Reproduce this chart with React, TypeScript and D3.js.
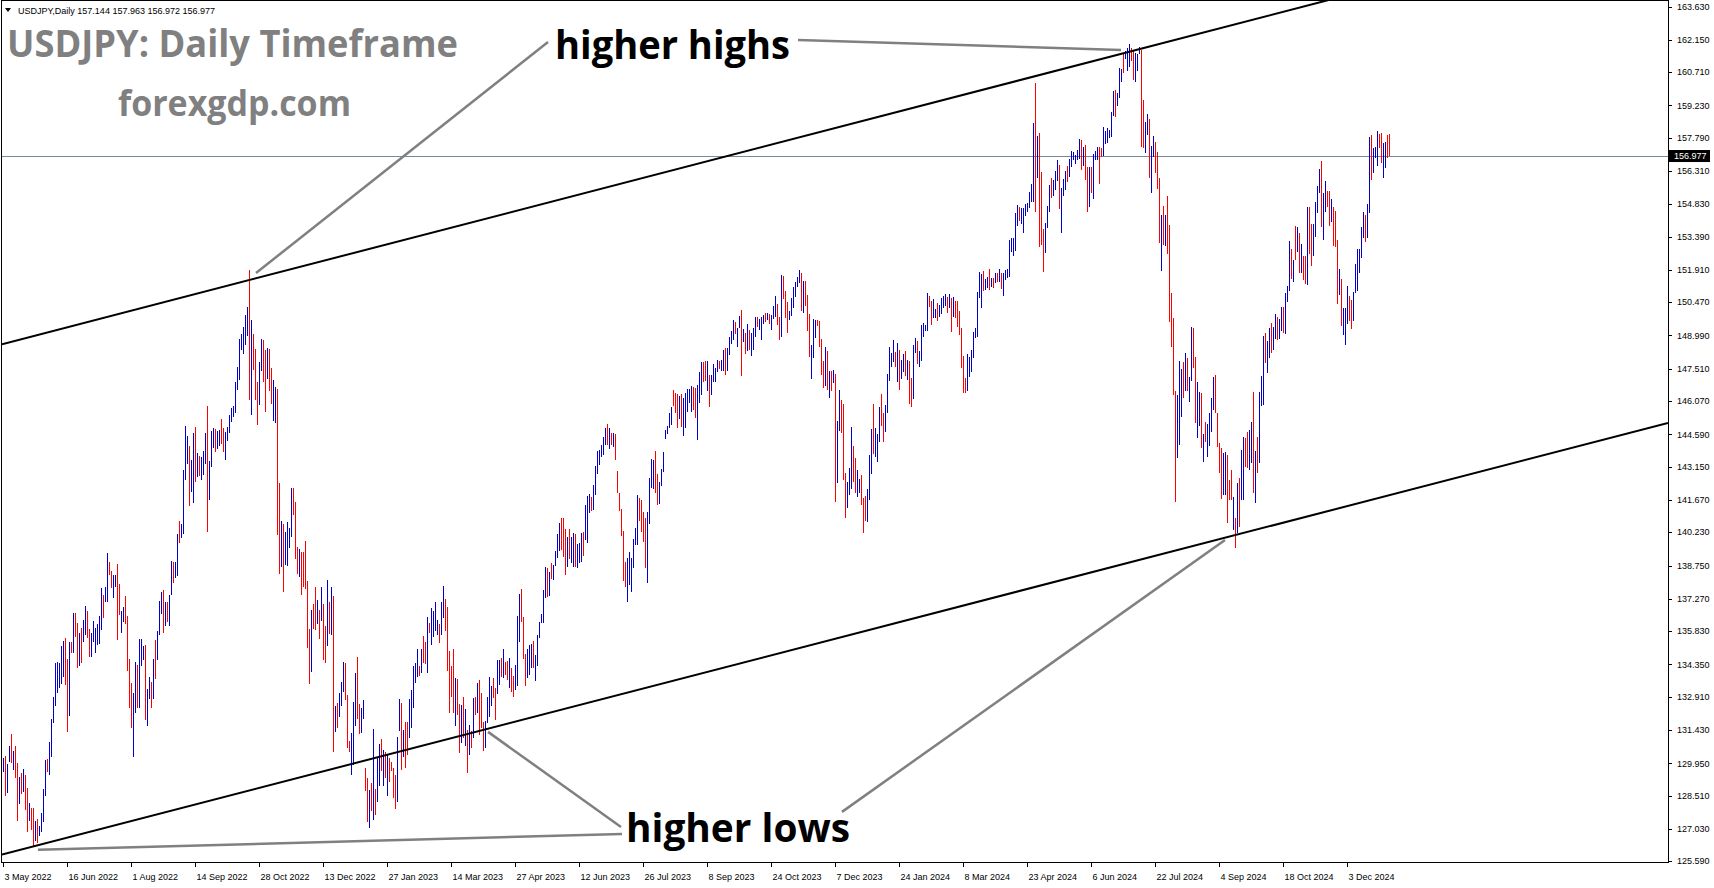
import React from "react";
import * as d3 from "d3";

// ---- Data (USDJPY daily bars) ----
const highs: number[] = [
  130.18,130.28,129.91,130.72,131.24,130.50,130.72,129.95,129.34,129.51,
  129.70,129.43,128.84,128.17,127.95,127.95,127.39,127.48,127.16,127.73,
  128.81,130.10,130.13,130.92,131.93,132.89,134.43,134.48,134.40,135.15,
  135.40,135.52,134.58,135.37,135.34,136.63,136.63,136.21,135.74,135.96,
  136.33,136.96,136.73,135.93,135.74,136.29,135.96,136.14,136.52,137.74,
  137.44,137.82,139.30,138.93,138.51,138.33,138.31,138.81,137.92,136.75,
  136.93,137.40,136.52,134.58,133.51,133.10,134.48,134.33,135.49,135.48,
  135.15,135.22,133.26,133.81,133.59,134.60,135.44,135.84,137.18,137.59,
  137.67,137.15,137.15,137.44,138.96,138.93,138.93,140.17,140.73,140.60,
  143.00,144.96,144.51,144.07,143.44,144.65,144.91,143.76,143.62,143.58,
  143.87,144.65,145.85,143.41,144.74,144.86,144.81,144.74,144.78,145.27,
  144.86,144.69,144.94,145.44,145.76,145.85,146.92,147.61,148.84,149.06,
  149.35,149.88,150.24,151.89,149.68,149.06,148.40,146.92,147.81,148.84,
  148.81,148.35,148.43,148.40,147.54,147.00,146.72,146.59,142.42,140.74,
  140.58,140.25,140.69,140.43,142.21,142.21,141.58,139.59,139.51,139.34,
  139.34,139.84,138.06,135.92,136.79,137.04,137.81,137.20,136.79,137.78,
  137.04,136.05,138.11,137.12,137.78,137.40,132.48,132.64,133.09,133.55,
  134.44,134.41,133.01,130.95,131.29,132.66,133.96,134.67,132.58,132.43,
  132.77,129.73,129.32,128.77,129.07,131.47,128.80,130.18,130.82,131.02,
  130.55,130.47,130.30,130.21,129.99,129.76,129.44,131.11,132.82,132.63,
  131.44,131.81,131.81,132.80,133.22,134.29,134.41,135.04,134.26,135.04,
  135.62,135.33,136.48,136.19,136.88,136.71,137.11,136.31,136.14,137.11,
  137.86,137.27,136.93,134.95,134.26,135.04,133.74,133.69,132.60,132.55,
  132.92,132.36,131.44,131.66,131.39,132.85,132.92,133.52,133.66,133.10,
  131.77,131.84,132.92,133.78,133.37,133.74,133.32,134.55,134.55,134.63,
  135.03,134.44,134.51,134.63,134.21,133.84,134.33,136.51,137.49,137.71,
  136.48,134.82,135.02,135.22,135.26,135.39,134.77,135.66,136.25,136.60,
  137.66,138.70,138.66,138.45,138.88,138.78,139.41,140.16,140.66,140.88,
  140.88,140.36,140.01,140.36,140.04,140.22,140.16,139.70,139.74,140.19,
  140.26,141.45,141.85,141.92,141.79,142.34,143.18,143.85,143.89,144.12,
  144.46,144.86,145.05,144.86,144.64,144.67,144.61,142.96,141.97,141.25,
  140.29,138.90,139.10,139.34,139.07,139.92,140.44,141.89,141.77,141.67,
  141.15,140.85,141.12,142.63,143.48,143.45,143.85,142.83,142.49,143.03,
  143.82,144.79,144.96,145.53,145.82,146.55,146.45,146.40,146.30,146.40,
  146.20,146.45,146.60,146.60,146.75,146.70,146.65,146.80,147.35,147.79,
  147.79,147.86,147.86,147.24,147.21,147.73,147.53,147.90,147.86,147.90,
  148.35,148.42,148.45,148.91,149.17,149.68,149.61,149.34,149.86,150.13,
  149.28,149.09,149.49,149.24,149.09,149.31,149.83,149.83,149.71,149.83,
  149.91,149.98,150.01,149.95,149.91,150.31,150.75,150.40,149.83,151.69,
  151.64,150.95,150.47,150.09,150.68,151.14,151.39,151.61,151.91,151.79,
  151.42,151.42,150.77,149.95,148.57,149.71,149.68,149.68,149.64,148.82,
  147.86,148.50,148.32,147.43,147.39,147.46,147.28,145.19,146.57,146.12,
  145.95,142.89,142.46,143.08,144.94,144.08,143.56,143.01,142.61,142.79,
  141.78,141.85,142.16,143.68,144.83,145.95,144.86,144.60,145.82,146.37,
  145.53,145.90,147.28,148.46,148.23,148.79,148.24,148.64,148.34,147.90,
  148.17,148.30,147.90,147.85,147.08,148.57,148.86,148.74,148.30,149.46,
  149.53,149.46,150.90,150.75,150.52,150.61,150.17,150.45,150.35,150.67,
  150.75,150.82,150.72,150.84,150.67,150.72,150.52,150.52,150.09,149.34,
  148.09,147.11,148.15,148.05,148.34,149.16,149.34,150.94,151.83,151.73,
  151.86,151.50,151.61,151.95,151.56,151.53,151.79,151.79,151.95,151.76,
  151.76,151.91,151.93,153.24,153.31,153.34,154.46,154.80,154.72,154.65,
  154.65,154.84,154.87,155.39,155.73,158.46,160.24,157.87,158.02,156.28,
  153.73,154.01,154.77,155.69,155.99,155.91,156.29,156.80,156.58,155.57,
  155.96,156.32,156.54,156.83,157.21,157.15,157.03,157.25,157.74,157.70,
  157.40,157.47,156.51,156.51,156.48,157.07,157.21,157.40,157.37,157.32,
  158.26,158.11,158.21,158.14,158.93,159.85,159.92,159.77,160.88,160.84,
  161.55,161.67,161.77,161.97,161.77,161.67,161.55,161.52,161.82,161.70,
  159.47,158.47,158.85,158.61,157.43,157.87,157.59,157.15,155.99,154.33,
  154.77,154.36,155.22,153.91,150.87,149.76,146.54,146.35,147.86,147.50,
  147.80,148.23,147.98,147.16,149.39,149.34,148.02,146.91,146.47,146.45,
  144.61,145.16,145.04,145.53,146.23,147.16,147.21,145.56,144.22,144.00,
  143.75,143.79,143.67,142.56,143.01,141.82,140.86,142.41,142.64,143.90,
  144.49,144.42,144.71,144.79,145.16,146.49,143.85,144.49,146.49,147.19,
  148.97,149.12,148.76,149.31,149.54,149.39,149.94,149.83,149.71,150.28,
  150.28,150.90,151.20,153.20,152.83,152.35,153.87,153.84,153.57,153.07,
  152.53,152.53,154.73,154.73,153.96,153.96,154.95,155.65,156.40,156.76,
  155.35,155.87,155.40,155.40,155.05,154.73,154.51,153.24,151.95,151.51,
  150.20,150.20,151.20,150.75,150.57,150.94,152.18,152.84,152.84,153.81,
  154.48,154.36,154.85,157.84,157.92,157.32,157.40,158.11,157.96,157.99,
  157.55,157.58,157.92,157.963,
];

const lows: number[] = [
  129.58,128.51,128.65,130.00,129.95,129.64,129.32,127.40,128.16,128.59,
  128.69,127.88,126.91,127.39,126.99,126.24,126.50,126.42,126.73,126.91,
  127.36,128.51,129.58,129.43,130.25,131.76,132.48,133.07,133.29,133.48,
  133.81,133.44,131.36,132.07,134.85,134.85,135.59,134.18,134.26,134.40,
  135.37,135.66,135.52,134.67,134.70,135.37,134.85,135.22,135.26,135.89,
  136.41,137.12,137.15,138.31,137.74,137.30,137.82,135.44,136.55,135.77,
  136.23,136.15,134.08,132.40,131.51,130.25,132.18,132.40,132.43,134.26,
  134.55,131.88,131.63,132.82,132.43,132.82,133.71,134.55,135.66,136.60,
  135.74,136.08,136.26,136.08,137.44,137.96,138.19,138.27,139.76,139.97,
  140.17,142.55,143.25,141.40,142.03,141.53,142.47,142.69,142.72,142.55,
  142.80,143.25,140.25,141.65,143.13,143.99,143.79,143.95,144.07,144.15,
  143.79,143.44,144.28,144.65,145.14,145.35,145.52,146.56,147.00,148.35,
  148.15,148.56,148.97,146.13,145.44,147.46,146.13,145.01,145.88,147.41,
  146.92,145.60,147.05,146.51,145.96,145.20,145.11,140.12,138.39,138.69,
  137.58,138.77,138.74,139.54,140.04,140.99,139.06,138.39,138.24,137.45,
  137.78,137.73,135.10,133.50,134.03,135.92,135.89,136.13,135.48,136.30,
  134.57,134.41,135.15,135.72,135.64,130.45,131.36,131.52,132.02,132.51,
  133.12,132.76,130.65,130.45,129.41,129.88,131.59,131.91,131.25,131.29,
  131.91,128.72,127.33,127.09,127.83,127.43,127.63,128.25,128.92,129.61,
  128.92,129.29,128.50,129.11,129.61,128.43,127.94,128.21,131.39,129.66,
  130.25,129.73,130.33,131.10,131.51,132.43,133.52,133.81,133.84,133.99,
  134.41,134.36,133.96,135.74,135.22,135.59,135.86,135.64,135.30,135.65,
  136.41,135.85,134.04,132.18,132.92,132.18,131.59,132.11,130.43,130.85,
  131.07,130.70,129.54,130.33,130.62,131.07,132.08,132.18,131.22,131.51,
  130.50,130.62,131.74,132.03,132.48,132.85,131.88,133.04,133.44,133.81,
  133.74,133.89,133.66,133.29,133.12,132.92,133.22,133.41,135.37,136.22,
  134.58,133.41,133.76,133.88,134.18,134.18,133.61,134.30,135.54,136.21,
  136.21,137.32,137.37,137.40,138.14,138.11,138.73,139.07,139.41,139.44,
  139.15,138.33,138.70,139.03,138.88,138.70,138.70,138.66,138.88,138.92,
  139.18,139.89,139.77,141.11,141.18,141.22,141.89,142.83,143.23,143.60,
  143.67,144.12,144.12,143.92,144.12,144.01,143.45,141.99,141.18,140.07,
  138.06,137.81,137.14,137.89,137.59,138.63,139.67,139.67,140.75,140.26,
  139.82,138.66,137.96,140.60,142.19,142.14,142.00,141.45,141.49,142.31,
  142.93,144.37,144.59,144.86,145.01,145.85,145.56,144.86,145.26,144.93,
  144.52,144.86,145.60,146.00,145.60,145.67,145.30,144.34,145.97,146.32,
  146.94,146.97,146.54,145.83,146.35,146.94,146.94,147.36,147.50,147.43,
  147.43,147.24,147.43,148.13,148.62,148.79,149.06,148.50,149.31,147.19,
  148.68,148.17,148.28,148.35,148.08,148.35,148.91,149.39,149.24,148.77,
  149.51,149.61,149.66,149.51,149.24,149.73,149.83,149.46,148.77,148.94,
  150.62,149.79,149.12,149.66,149.86,150.23,150.72,151.14,151.32,150.09,
  150.01,150.31,149.17,148.05,147.06,147.98,148.87,149.42,148.50,147.24,
  146.64,146.75,146.57,146.20,146.50,146.87,141.57,142.42,144.75,144.67,
  142.56,140.89,141.33,141.90,142.16,142.46,141.97,141.79,142.00,141.45,
  140.19,140.74,140.71,141.67,142.82,143.72,143.60,143.35,144.26,144.96,
  144.26,144.71,145.53,146.98,147.60,147.83,147.57,146.93,146.56,147.04,
  147.38,147.20,147.01,145.94,145.82,146.16,148.23,147.72,147.57,147.85,
  148.94,149.20,149.20,150.24,149.46,149.78,149.75,149.63,149.83,149.95,
  150.20,150.32,149.98,150.23,149.16,149.83,149.75,149.38,149.01,147.53,
  146.42,146.42,146.52,147.16,147.38,147.97,148.86,148.94,150.67,150.23,
  150.97,151.01,151.09,151.01,151.16,151.09,151.34,151.39,151.39,151.04,
  150.75,151.46,151.53,151.61,152.72,152.54,152.77,153.88,154.10,153.94,
  153.57,154.31,154.50,154.68,154.95,154.95,154.50,156.01,152.94,153.02,
  151.83,152.68,153.79,154.50,155.13,155.22,155.47,155.88,154.62,153.57,
  155.20,155.47,155.80,156.06,156.51,156.81,156.61,156.81,156.85,156.36,
  156.55,155.91,154.50,154.73,155.32,155.07,156.81,156.78,155.72,156.95,
  156.98,157.50,157.55,157.77,157.81,158.78,158.73,159.21,159.55,160.29,
  160.66,161.28,160.78,160.96,161.22,160.34,160.25,160.74,161.52,157.37,
  157.32,157.13,157.92,156.02,155.35,156.95,156.24,155.51,153.10,151.88,
  153.02,152.98,152.61,149.57,148.47,146.35,141.60,143.56,144.12,145.38,
  146.20,146.52,146.52,146.01,146.97,147.56,145.11,144.42,144.97,143.97,
  143.38,144.27,143.60,144.08,144.71,145.68,145.53,144.05,142.86,141.70,
  141.89,141.90,140.63,141.67,141.67,140.34,139.52,140.19,140.49,141.67,
  141.67,143.16,143.08,143.01,143.30,142.00,141.55,142.89,143.33,145.87,
  145.90,147.78,147.31,147.98,148.20,148.35,148.82,148.79,148.82,149.21,
  149.09,149.05,150.46,150.95,151.51,151.39,152.35,152.72,151.79,151.76,
  151.46,151.29,151.24,152.62,152.09,152.53,153.36,154.43,155.32,153.81,
  153.24,154.50,154.70,153.88,154.06,152.98,152.95,150.40,150.80,149.43,
  149.02,148.57,149.49,149.65,149.28,149.65,150.87,150.95,151.76,152.43,
  153.32,153.13,153.32,154.43,155.91,156.24,156.88,156.54,157.32,156.66,
  155.99,156.43,156.91,156.972,
];

// U = bullish (blue), D = bearish (red)
const directions: string[] = (
  "UDUUDUDDUD" + "UDDUDDUDUU" + "UUDUUUUUUU" + "UDDUDUDDUD" + "UUDDUUUUUU" +
  "DUUDDUUDDU" + "UDDDDUUDUU" + "UDUUDUDUUU" + "DUDUUDUUDU" + "UUUDUUDUDU" +
  "UUDUUUDUUD" + "DUUUUUUUUU" + "UUUDUDDDUU" + "DDUDDUUDDU" + "DUUUUDDDUD" +
  "DDDDUDDUDU" + "DDUDUDUDUU" + "UDDDUUUDDU" + "UDDUDUDUUD" + "UDUDDDDUUD" +
  "UDDUUUUUDU" + "DDUDUUUUDU" + "UDDDDDUDDU" + "DUDUDUDUDD" + "DUUUUDDUUD" +
  "UDDUDDUUUD" + "DDUUUDUUUU" + "UUDUDUUUUD" + "DDUDUUDUUU" + "DUUUDUUUUU" +
  "UUDUDUDDDD" + "DDUUUUUUDD" + "DDUUUUDDUU" + "UUUUUDDDUD" + "UUUUUDDUUU" +
  "DDUDUUUUDU" + "UDUUUUDUUD" + "UDUDUUUDUU" + "UDUDUUUDDU" + "DDDUUUUUUD" +
  "UDDDUUUDDD" + "DUDUDUDUUD" + "DDUUUDDUUD" + "DDUUUDUUUD" + "DUUUUUDUDU" +
  "UDUDDUUDUU" + "UUUDDUUDUU" + "UUDUDUDDDD" + "DDUUUUUUUU" + "DUUDUDUDUD" +
  "UUUUUUUUDU" + "UUUUUUDUDD" + "DUUUDUUUDU" + "UUDUUUUUUD" + "UDDUDUUUDD" +
  "UUUUUUDUUU" + "DUUUDDUUUD" + "DUUDUUDDDU" + "DUDDDDDUUU" + "DUDUUDDUUD" +
  "UDUUUUDDDD" + "UUDDDUDUDU" + "UDDUUDUDUU" + "UDUUDUUDUU" + "DUUUDUDUDU" +
  "DDUDDUUUUD" + "UUDDUDDDUD" + "UUUDDUUUUU" + "UDUUDUUUDD" + "UUDD"
).split("");

const timeLabels: string[] = [
  "3 May 2022", "16 Jun 2022", "1 Aug 2022", "14 Sep 2022", "28 Oct 2022",
  "13 Dec 2022", "27 Jan 2023", "14 Mar 2023", "27 Apr 2023", "12 Jun 2023",
  "26 Jul 2023", "8 Sep 2023", "24 Oct 2023", "7 Dec 2023", "24 Jan 2024",
  "8 Mar 2024", "23 Apr 2024", "6 Jun 2024", "22 Jul 2024", "4 Sep 2024",
  "18 Oct 2024", "3 Dec 2024",
];
const barsPerTimeLabel = 32;

const priceTicks: number[] = [
  163.63, 162.15, 160.71, 159.23, 157.79, 156.31, 154.83, 153.39, 151.91,
  150.47, 148.99, 147.51, 146.07, 144.59, 143.15, 141.67, 140.23, 138.75,
  137.27, 135.83, 134.35, 132.91, 131.43, 129.95, 128.51, 127.03, 125.59,
];

const lastBar = { open: 157.144, high: 157.963, low: 156.972, close: 156.977 };

// trend channel anchors (bar index, price)
const channelUpper = [ { bar: 123, price: 151.46 }, { bar: 563, price: 161.62 } ];
const channelLower = [ { bar: 0, price: 125.91 }, { bar: 616, price: 140.11 } ];

// annotation connector lines (bar index, price)
const connectors = [
  [ { bar: 272.25, price: 162.05 }, { bar: 126.25, price: 151.77 } ],
  [ { bar: 397.25, price: 162.14 }, { bar: 558.75, price: 161.70 } ],
  [ { bar: 17.25, price: 126.10 }, { bar: 309.25, price: 126.81 } ],
  [ { bar: 242.25, price: 131.35 }, { bar: 308.75, price: 127.12 } ],
  [ { bar: 419.25, price: 127.79 }, { bar: 610.75, price: 139.89 } ],
];

const SMALL_FONT = "'Liberation Sans', Arial, sans-serif";
const BIG_FONT = "'Open Sans', 'Noto Sans', Lato, sans-serif";

export default function App() {
  const W = 1714, H = 888;
  const plotLeft = 2, plotTop = 1, plotRight = 1668, plotBottom = 862;

  const y = d3.scaleLinear().domain([125.56, 163.92]).range([plotBottom, 0]);
  const x = d3.scaleLinear().domain([0, 1]).range([3.5, 5.5]);

  const n = Math.min(highs.length, lows.length, directions.length);
  const bars = d3.range(n).map((i) => ({
    i, h: highs[i], l: lows[i], up: directions[i] === "U",
  }));

  const extendLine = (pts: { bar: number; price: number }[]) => {
    const [a, b] = pts;
    const slope = (b.price - a.price) / (b.bar - a.bar);
    const b0 = x.invert(plotLeft);
    const b1 = x.invert(plotRight);
    const p = (bb: number) => a.price + (bb - a.bar) * slope;
    return { x1: x(b0), y1: y(p(b0)), x2: x(b1), y2: y(p(b1)) };
  };
  const up = extendLine(channelUpper);
  const lo = extendLine(channelLower);

  return (
    <div style={{ position: "absolute", left: 0, top: 0, width: W, height: H, background: "#fff" }}>
      <svg width={W} height={H} viewBox={`0 0 ${W} ${H}`} style={{ display: "block" }}>
        <defs>
          <clipPath id="plotClip">
            <rect x={plotLeft} y={plotTop} width={plotRight - plotLeft} height={plotBottom - plotTop} />
          </clipPath>
        </defs>
        <rect x={0} y={0} width={W} height={H} fill="#fff" />

        {/* bid line */}
        <line x1={plotLeft} x2={plotRight} y1={Math.round(y(lastBar.close)) + 0.5} y2={Math.round(y(lastBar.close)) + 0.5}
          stroke="#778899" strokeWidth={1} shapeRendering="crispEdges" />

        {/* bars */}
        <g shapeRendering="crispEdges">
          {bars.map((b) => {
            const yh = Math.round(y(b.h));
            const yl = Math.max(Math.round(y(b.l)), yh + 1);
            return (
              <line key={b.i} x1={Math.floor(x(b.i)) + 0.5} x2={Math.floor(x(b.i)) + 0.5}
                y1={yh} y2={yl} stroke={b.up ? "#0000C8" : "#FF0000"} strokeWidth={1} />
            );
          })}
        </g>

        {/* channel lines */}
        <g clipPath="url(#plotClip)">
          <line {...up} stroke="#000" strokeWidth={2} />
          <line {...lo} stroke="#000" strokeWidth={2} />
          {connectors.map((c, k) => (
            <line key={k} x1={x(c[0].bar)} y1={y(c[0].price)} x2={x(c[1].bar)} y2={y(c[1].price)}
              stroke="#808080" strokeWidth={2.5} />
          ))}
        </g>

        {/* frame */}
        <rect x={plotLeft - 0.5} y={plotTop - 0.5} width={plotRight - plotLeft + 1} height={plotBottom - plotTop + 1}
          fill="none" stroke="#000" strokeWidth={1} shapeRendering="crispEdges" />

        {/* price axis */}
        <g fontFamily={SMALL_FONT} fontSize={9} fill="#000">
          {priceTicks.map((p) => (
            <g key={p}>
              <line x1={plotRight} x2={plotRight + 4} y1={Math.round(y(p)) + 0.5} y2={Math.round(y(p)) + 0.5}
                stroke="#000" shapeRendering="crispEdges" />
              <text x={plotRight + 9} y={y(p)} dy="0.35em">{p.toFixed(3)}</text>
            </g>
          ))}
          <rect x={plotRight + 1} y={y(lastBar.close) - 6} width={41} height={12} fill="#000" />
          <text x={plotRight + 6} y={y(lastBar.close)} dy="0.35em" fill="#fff">{lastBar.close.toFixed(3)}</text>
        </g>

        {/* time axis */}
        <g fontFamily={SMALL_FONT} fontSize={9} fill="#000">
          {timeLabels.map((t, k) => {
            const px = Math.floor(x(k * barsPerTimeLabel)) + 0.5;
            return (
              <g key={t}>
                <line x1={px} x2={px} y1={plotBottom} y2={plotBottom + 5} stroke="#000" shapeRendering="crispEdges" />
                <text x={px + 1} y={880}>{t}</text>
              </g>
            );
          })}
        </g>

        {/* header */}
        <g fontFamily={SMALL_FONT} fontSize={9} fill="#000">
          <path d="M5,8 L11,8 L8,12 Z" fill="#000" />
          <text x={18} y={14}>{`USDJPY,Daily  ${lastBar.open.toFixed(3)} ${lastBar.high.toFixed(3)} ${lastBar.low.toFixed(3)} ${lastBar.close.toFixed(3)}`}</text>
        </g>

        {/* titles */}
        <g fontFamily={BIG_FONT} fontWeight={700}>
          <text x={7} y={57} fontSize={38} fill="#808080" textLength={451} lengthAdjust="spacingAndGlyphs">USDJPY: Daily Timeframe</text>
          <text x={118} y={116} fontSize={35} fill="#808080" textLength={233} lengthAdjust="spacingAndGlyphs">forexgdp.com</text>
          <text x={555} y={59} fontSize={40} fill="#000" textLength={235} lengthAdjust="spacingAndGlyphs">higher highs</text>
          <text x={626} y={842} fontSize={40} fill="#000" textLength={224} lengthAdjust="spacingAndGlyphs">higher lows</text>
        </g>
      </svg>
    </div>
  );
}
